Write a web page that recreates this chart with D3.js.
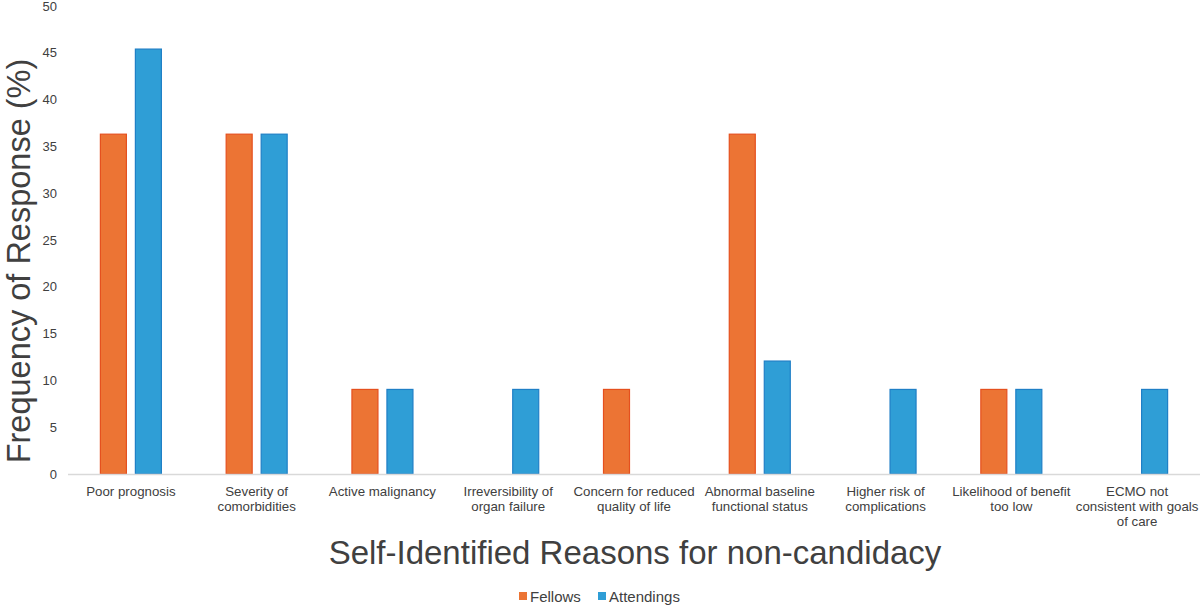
<!DOCTYPE html>
<html>
<head>
<meta charset="utf-8">
<script src="https://cdn.jsdelivr.net/npm/d3@7"></script>
<style>
  html, body { margin: 0; padding: 0; background: #fff; }
  svg { display: block; font-family: "Liberation Sans", Arial, sans-serif; }
</style>
</head>
<body>
<svg id="chart" width="1200" height="606"></svg>
<script>
// ---- data ----
const categories = [
  "Poor prognosis",
  "Severity of\ncomorbidities",
  "Active malignancy",
  "Irreversibility of\norgan failure",
  "Concern for reduced\nquality of life",
  "Abnormal baseline\nfunctional status",
  "Higher risk of\ncomplications",
  "Likelihood of benefit\ntoo low",
  "ECMO not\nconsistent with goals\nof care"
];
const seriesNames = ["Fellows", "Attendings"];
const fellows    = [36.36, 36.36, 9.09, 0, 9.09, 36.36, 0, 9.09, 0];
const attendings = [45.45, 36.36, 9.09, 9.09, 0, 12.12, 9.09, 9.09, 9.09];
const yTicks = [0, 5, 10, 15, 20, 25, 30, 35, 40, 45, 50];
const yTitle = "Frequency of Response (%)";
const xTitle = "Self-Identified Reasons for non-candidacy";

// ---- layout / style ----
const svg = d3.select("#chart");
const mLeft = 68, mRight = 1200, mTop = 6, mBottom = 474;
const fills   = { Fellows: "#EC7434", Attendings: "#2F9ED6" };
const strokes = { Fellows: "#E5501E", Attendings: "#1F7FC6" };
const textColor = "#404040";

const x0 = d3.scaleBand().domain(categories).range([mLeft, mRight]).padding(0);
const bw = x0.bandwidth();
const barW = 27, gap = 8;
const step = barW + gap;
const x1 = d3.scaleBand().domain(seriesNames)
  .range([0, bw])
  .paddingInner(gap / step)
  .paddingOuter(((bw - (2 * barW + gap)) / 2) / step);

const y = d3.scaleLinear().domain([0, 50]).range([mBottom, mTop]);

const data = categories.map((c, i) => ({
  cat: c,
  vals: [{ s: "Fellows", v: fellows[i] }, { s: "Attendings", v: attendings[i] }]
}));

// bars
const g = svg.append("g");
g.selectAll("g.cat").data(data).join("g")
  .attr("class", "cat")
  .attr("transform", d => `translate(${x0(d.cat)},0)`)
  .selectAll("rect").data(d => d.vals.filter(v => v.v > 0)).join("rect")
  .attr("x", d => x1(d.s) + 0.5)
  .attr("y", d => y(d.v) + 0.5)
  .attr("width", x1.bandwidth() - 1)
  .attr("height", d => y(0) - y(d.v) - 0.5)
  .attr("fill", d => fills[d.s])
  .attr("stroke", d => strokes[d.s])
  .attr("stroke-width", 1.2);

// x axis line
svg.append("line")
  .attr("x1", mLeft).attr("x2", mRight)
  .attr("y1", y(0) + 0.5).attr("y2", y(0) + 0.5)
  .attr("stroke", "#D9D9D9").attr("stroke-width", 1.5);

// y axis (labels only)
const yAxis = d3.axisLeft(y).tickValues(yTicks).tickSize(0).tickPadding(0);
const ya = svg.append("g").attr("transform", `translate(57,0)`).call(yAxis);
ya.select(".domain").remove();
ya.selectAll("text")
  .attr("fill", textColor)
  .style("font-size", "13px")
  .style("font-family", "Liberation Sans, Arial, sans-serif");

// category labels
const lbl = svg.append("g");
lbl.selectAll("text").data(categories).join("text")
  .attr("x", d => x0(d) + bw / 2)
  .attr("y", 496)
  .attr("text-anchor", "middle")
  .attr("fill", textColor)
  .style("font-size", "13.3px")
  .each(function(d) {
    const t = d3.select(this);
    d.split("\n").forEach((line, i) => {
      t.append("tspan").attr("x", x0(d) + bw / 2).attr("dy", i === 0 ? 0 : 15).text(line);
    });
  });

// axis titles
svg.append("text")
  .attr("transform", `translate(30,${261}) rotate(-90)`)
  .attr("text-anchor", "middle")
  .attr("fill", textColor)
  .style("font-size", "32.5px")
  .text(yTitle);

svg.append("text")
  .attr("x", 635).attr("y", 564)
  .attr("text-anchor", "middle")
  .attr("fill", textColor)
  .style("font-size", "33px")
  .text(xTitle);

// legend
const legend = svg.append("g");
const li = legend.selectAll("g").data(seriesNames).join("g")
  .attr("transform", (d, i) => `translate(${i === 0 ? 519 : 598},592)`);
li.append("rect").attr("width", 8).attr("height", 8)
  .attr("fill", d => fills[d]);
li.append("text").attr("x", 11).attr("y", 9.5)
  .attr("fill", textColor)
  .style("font-size", "15px")
  .text(d => d);
</script>
</body>
</html>
